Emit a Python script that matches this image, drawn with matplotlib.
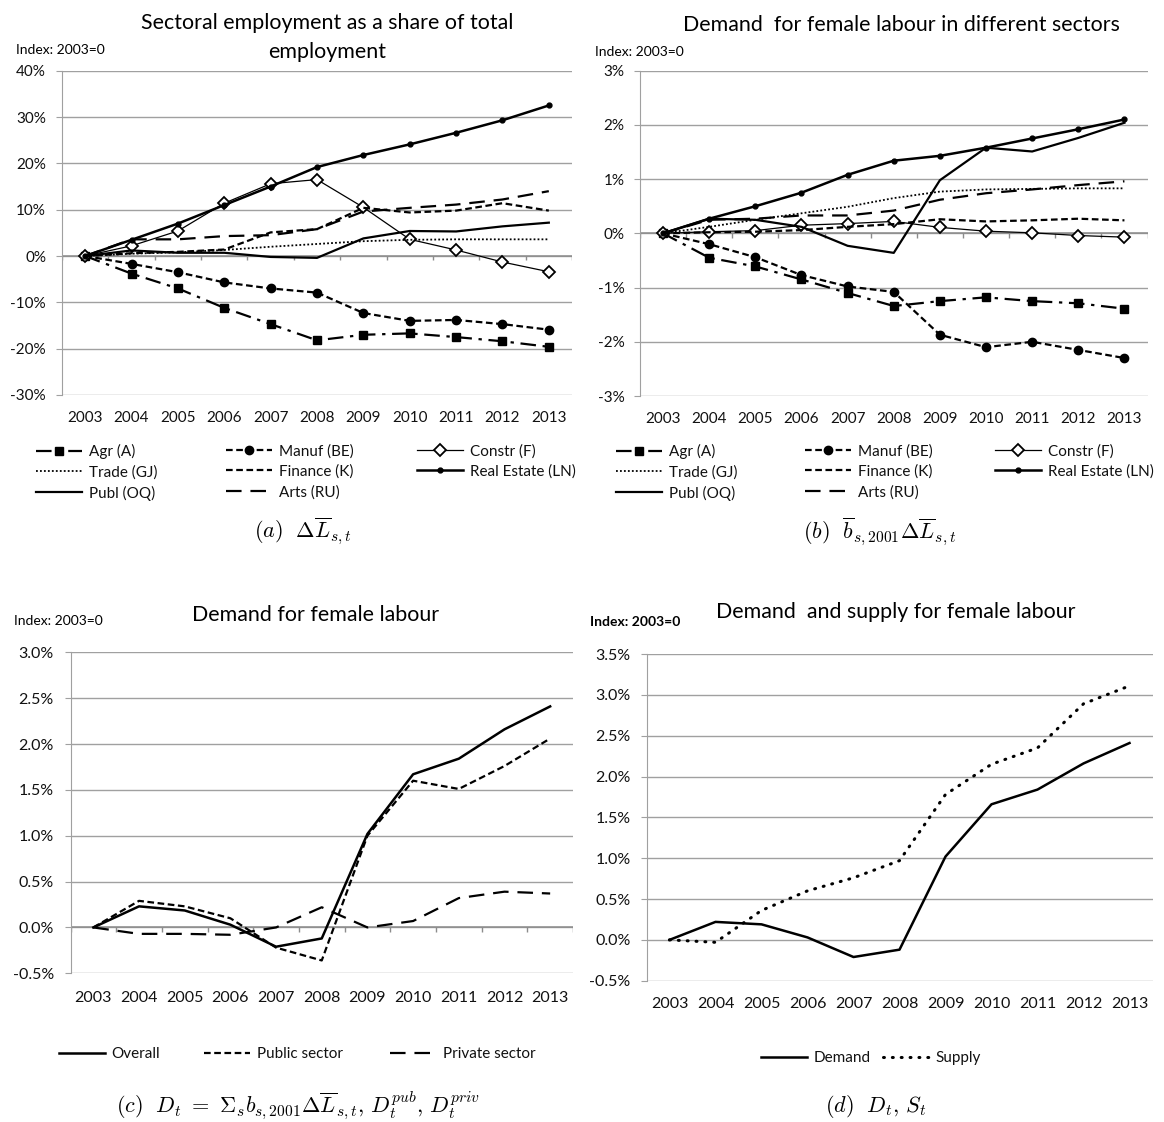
#%% IMPORTS               ~~~~~~~~~~~~~~~~~~~~~~~~~~~~~~~~~~~~~~~~~~~~
import matplotlib
matplotlib.use('Agg')
import matplotlib.pyplot as plt
import numpy as np

plt.rcParams['font.family'] = ['Lato', 'DejaVu Sans']
plt.rcParams['mathtext.fontset'] = 'cm'

#%% DATA               ~~~~~~~~~~~~~~~~~~~~~~~~~~~~~~~~~~~~~~~~~~~~
years = ['2003', '2004', '2005', '2006', '2007', '2008', '2009', '2010', '2011', '2012', '2013']

# (a) sectoral employment as a share of total employment, % change
a_agr = [0, -3.8, -7.0, -11.2, -14.7, -18.2, -17.0, -16.7, -17.5, -18.4, -19.6]
a_manuf = [0, -1.7, -3.5, -5.7, -7.0, -7.9, -12.3, -14.0, -13.8, -14.7, -15.9]
a_constr = [0, 2.2, 5.4, 11.4, 15.6, 16.5, 10.5, 3.6, 1.3, -1.3, -3.4]
a_trade = [0, 0.5, 0.8, 1.3, 2.0, 2.6, 3.2, 3.5, 3.6, 3.6, 3.6]
a_finance = [0, 0.6, 0.9, 1.4, 5.1, 5.8, 10.4, 9.4, 9.8, 11.4, 9.8]
a_realestate = [0, 3.5, 7.0, 11.0, 15.0, 19.2, 21.8, 24.1, 26.6, 29.3, 32.5]
a_publ = [0, 1.2, 0.7, 0.7, -0.2, -0.4, 3.8, 5.4, 5.3, 6.4, 7.2]
a_arts = [0, 3.6, 3.6, 4.3, 4.5, 5.8, 9.6, 10.4, 11.1, 12.2, 14.0]

# (b) demand for female labour in different sectors, %
b_agr = [0, -0.45, -0.61, -0.85, -1.10, -1.34, -1.25, -1.18, -1.25, -1.29, -1.39]
b_manuf = [0, -0.20, -0.44, -0.77, -0.98, -1.08, -1.87, -2.10, -2.00, -2.15, -2.30]
b_constr = [0, 0.03, 0.05, 0.15, 0.18, 0.22, 0.11, 0.04, 0.01, -0.04, -0.07]
b_trade = [0, 0.12, 0.25, 0.37, 0.49, 0.65, 0.77, 0.81, 0.82, 0.83, 0.83]
b_finance = [0, 0.02, 0.03, 0.06, 0.12, 0.17, 0.26, 0.22, 0.24, 0.27, 0.24]
b_realestate = [0, 0.27, 0.50, 0.75, 1.08, 1.34, 1.43, 1.58, 1.75, 1.92, 2.10]
b_publ = [0, 0.27, 0.25, 0.12, -0.23, -0.36, 0.98, 1.58, 1.51, 1.76, 2.04]
b_arts = [0, 0.25, 0.27, 0.33, 0.33, 0.42, 0.62, 0.74, 0.81, 0.89, 0.96]

# (c) demand for female labour, %
c_overall = [0, 0.23, 0.185, 0.03, -0.21, -0.12, 1.02, 1.67, 1.84, 2.16, 2.41]
c_public = [0, 0.29, 0.23, 0.10, -0.22, -0.36, 1.00, 1.60, 1.51, 1.76, 2.06]
c_private = [0, -0.07, -0.07, -0.08, 0.0, 0.22, 0.0, 0.07, 0.32, 0.39, 0.37]

# (d) demand and supply for female labour, %
d_demand = [0, 0.22, 0.19, 0.03, -0.21, -0.12, 1.02, 1.66, 1.84, 2.16, 2.41]
d_supply = [0, -0.03, 0.36, 0.60, 0.76, 0.97, 1.78, 2.15, 2.35, 2.89, 3.11]

sector_labels = ['Agr (A)', 'Manuf (BE)', 'Constr (F)', 'Trade (GJ)', 'Finance (K)',
                 'Real Estate (LN)', 'Publ (OQ)', 'Arts (RU)']

#%% SETUP               ~~~~~~~~~~~~~~~~~~~~~~~~~~~~~~~~~~~~~~~~~~~~
W, H = 1164, 1122
fig = plt.figure(figsize=(W / 100, H / 100), dpi=100)
x = np.arange(len(years))
GRID = '#a0a0a0'
TXT = '#111111'
TITLE_FS = 15.4
CAP_FS = 16


# axes from pixel box (left, top, right, bottom)
def px_axes(l, t, r, b):
    return fig.add_axes([l / W, 1 - b / H, (r - l) / W, (b - t) / H])
#


def fx(px):
    return px / W


def fy(py):
    return 1 - py / H


def style_axes(ax, ylim, step, fmt, xpad, ypad, fs, zero_ticks=True):
    ax.set_xlim(-0.5, len(years) - 0.5)
    ax.set_ylim(*ylim)
    ax.set_yticks(np.arange(ylim[0], ylim[1] + step / 2, step))
    ax.yaxis.set_major_formatter(plt.FuncFormatter(lambda v, p: fmt.format(v)))
    ax.set_xticks(x)
    ax.set_xticklabels(years)
    ax.grid(axis='y', color=GRID, lw=1)
    ax.set_axisbelow(True)
    for s in ['top', 'right', 'bottom']:
        ax.spines[s].set_visible(False)
    ax.spines['left'].set_color(GRID)
    ax.tick_params(axis='x', length=0, pad=xpad, labelsize=fs, colors=TXT)
    ax.tick_params(axis='y', length=4, color=GRID, pad=ypad, labelsize=fs, colors=TXT)
    if zero_ticks:
        ax.axhline(0, color='#8c8c8c', lw=1.1, zorder=1)
        d = (ylim[1] - ylim[0]) * 0.013
        ax.vlines(np.arange(-0.5, len(years)), -d, 0, color='#8c8c8c', lw=1, zorder=1)
    #
#


def plot_sectors(ax, vals):
    agr, manuf, constr, trade, finance, realestate, publ, arts = vals
    k = 'black'
    h = []
    h += ax.plot(x, agr, color=k, lw=1.6, dashes=(7, 3, 1.5, 3), marker='s', ms=6)
    h += ax.plot(x, manuf, color=k, lw=1.6, dashes=(3, 1.6), marker='o', ms=6)
    h += ax.plot(x, constr, color=k, lw=0.9, marker='D', ms=6.5, mfc='white', mec=k, mew=1.3)
    h += ax.plot(x, trade, color=k, lw=1.3, dashes=(1, 1.2))
    h += ax.plot(x, finance, color=k, lw=1.6, dashes=(3, 1.6))
    h += ax.plot(x, realestate, color=k, lw=1.8, marker='o', ms=3.5)
    h += ax.plot(x, publ, color=k, lw=1.6)
    h += ax.plot(x, arts, color=k, lw=1.6, dashes=(7, 4))
    return h
#


def legend_col(handles, labels, px, py, fs=11):
    leg = fig.legend(handles, labels, loc='upper left', bbox_to_anchor=(fx(px), fy(py)),
                     frameon=False, fontsize=fs, borderpad=0, borderaxespad=0,
                     handlelength=3.0, handletextpad=0.45, labelspacing=0.4, numpoints=1)
    for t in leg.get_texts():
        t.set_color(TXT)
    return leg
#


def caption(px, py, s):
    fig.text(fx(px), fy(py), s, ha='center', va='center', fontsize=CAP_FS)
#


#%% PANEL (a)               ~~~~~~~~~~~~~~~~~~~~~~~~~~~~~~~~~~~~~~~~~~~~
ax_a = px_axes(62, 70.7, 572, 395)
style_axes(ax_a, (-30, 40), 10, '{:.0f}%', 11.5, 7.5, 11)
h_a = plot_sectors(ax_a, [a_agr, a_manuf, a_constr, a_trade, a_finance,
                          a_realestate, a_publ, a_arts])
fig.text(fx(327), fy(23), 'Sectoral employment as a share of total', ha='center', va='center', fontsize=TITLE_FS)
fig.text(fx(327), fy(52), 'employment', ha='center', va='center', fontsize=TITLE_FS)
fig.text(fx(16), fy(50), 'Index: 2003=0', ha='left', va='center', fontsize=10)
legend_col([h_a[0], h_a[3], h_a[6]], [sector_labels[0], sector_labels[3], sector_labels[6]], 36, 444)
legend_col([h_a[1], h_a[4], h_a[7]], [sector_labels[1], sector_labels[4], sector_labels[7]], 226, 444)
legend_col([h_a[2], h_a[5]], [sector_labels[2], sector_labels[5]], 417, 444)
caption(303, 531, r'$(a)\ \ \Delta\overline{L}_{s,t}$')

#%% PANEL (b)               ~~~~~~~~~~~~~~~~~~~~~~~~~~~~~~~~~~~~~~~~~~~~
ax_b = px_axes(640, 70.7, 1147.5, 396)
style_axes(ax_b, (-3, 3), 1, '{:.0f}%', 11.5, 7, 11)
h_b = plot_sectors(ax_b, [b_agr, b_manuf, b_constr, b_trade, b_finance,
                          b_realestate, b_publ, b_arts])
fig.text(fx(901), fy(25), 'Demand  for female labour in different sectors', ha='center', va='center', fontsize=TITLE_FS)
fig.text(fx(595), fy(52), 'Index: 2003=0', ha='left', va='center', fontsize=10)
legend_col([h_b[0], h_b[3], h_b[6]], [sector_labels[0], sector_labels[3], sector_labels[6]], 616, 444)
legend_col([h_b[1], h_b[4], h_b[7]], [sector_labels[1], sector_labels[4], sector_labels[7]], 805, 444)
legend_col([h_b[2], h_b[5]], [sector_labels[2], sector_labels[5]], 995, 444)
caption(880, 531, r'$(b)\ \ \overline{b}_{s,2001}\Delta\overline{L}_{s,t}$')

#%% PANEL (c)               ~~~~~~~~~~~~~~~~~~~~~~~~~~~~~~~~~~~~~~~~~~~~
ax_c = px_axes(70.5, 652.3, 573, 973.3)
style_axes(ax_c, (-0.5, 3.0), 0.5, '{:.1f}%', 12.5, 8, 11.5)
h_c = []
h_c += ax_c.plot(x, c_overall, color='black', lw=1.8)
h_c += ax_c.plot(x, c_public, color='black', lw=1.6, dashes=(3, 1.6))
h_c += ax_c.plot(x, c_private, color='black', lw=1.6, dashes=(7, 4))
fig.text(fx(316), fy(615), 'Demand for female labour', ha='center', va='center', fontsize=TITLE_FS)
fig.text(fx(14), fy(621), 'Index: 2003=0', ha='left', va='center', fontsize=10)
legend_col([h_c[0]], ['Overall'], 59, 1047)
legend_col([h_c[1]], ['Public sector'], 204, 1047)
legend_col([h_c[2]], ['Private sector'], 390, 1047)
caption(298, 1106, r'$(c)\ \ D_t \ =\ \Sigma_s b_{s,2001}\Delta\overline{L}_{s,t},\, D_t^{pub},\, D_t^{priv}$')

#%% PANEL (d)               ~~~~~~~~~~~~~~~~~~~~~~~~~~~~~~~~~~~~~~~~~~~~
ax_d = px_axes(646.5, 654, 1152.5, 980.7)
style_axes(ax_d, (-0.5, 3.5), 0.5, '{:.1f}%', 12, 7.5, 11.5, zero_ticks=False)
h_d = []
h_d += ax_d.plot(x, d_demand, color='black', lw=1.8)
h_d += ax_d.plot(x, d_supply, color='black', lw=2.2, dashes=(0.3, 2.6), dash_capstyle='round')
fig.text(fx(896), fy(612), 'Demand  and supply for female labour', ha='center', va='center', fontsize=TITLE_FS)
fig.text(fx(590), fy(622), 'Index: 2003=0', ha='left', va='center', fontsize=10, fontweight='bold')
legend_col([h_d[0]], ['Demand'], 761, 1051)
legend_col([h_d[1]], ['Supply'], 883, 1051)
caption(876, 1106, r'$(d)\ \ D_t,\, S_t$')

fig.savefig('out.png', dpi=100)
